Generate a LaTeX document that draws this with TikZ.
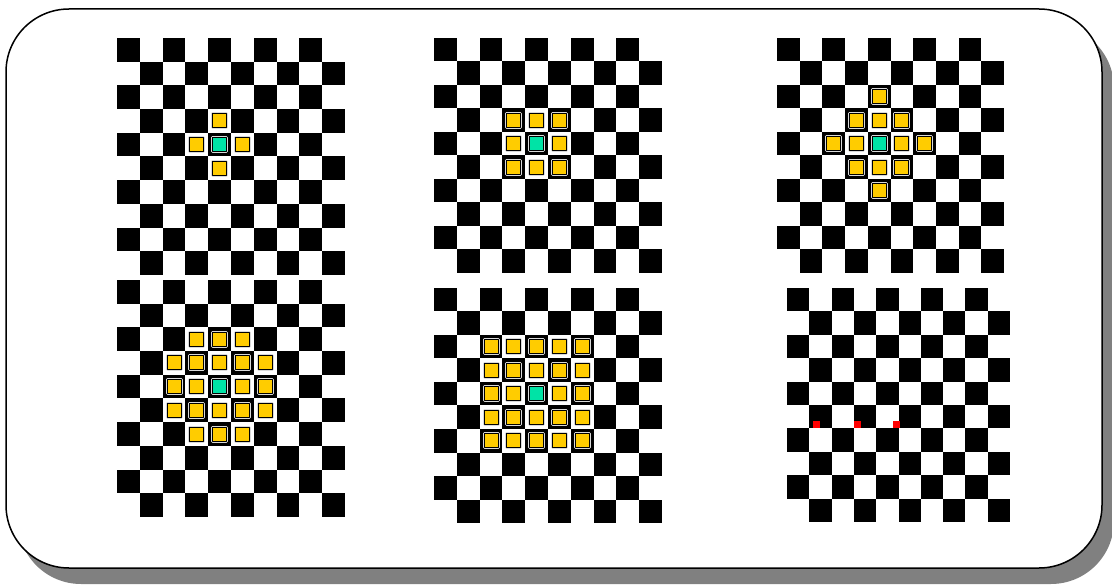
\documentclass[tikz,border=0pt]{standalone}
\usepackage{tikz}

\definecolor{markyellow}{HTML}{FFCC00}
\definecolor{markteal}{HTML}{00E3A6}
\definecolor{shadowgray}{HTML}{808080}

\tikzset{
  nbr/.style={draw=black, line width=1pt, fill=markyellow, minimum size=14pt,
    inner sep=0pt, preaction={draw=white!85!black, line width=3pt}},
  ctr/.style={nbr, fill=markteal},
  reddot/.style={fill=red, minimum size=7pt, inner sep=0pt},
}

%% 10x10 棋盘，格子坐标 = 单位长度（由 scope 的 x/y 决定）
\newcommand{\chessboard}{%
  \foreach \r in {0,...,9}
    \foreach \c in {0,2,...,8}{
      \pgfmathtruncatemacro\cc{\c+mod(\r,2)}
      \fill (\cc,\r) rectangle ++(1,1);
    }}

\begin{document}
\begin{tikzpicture}[x=1pt, y=-1pt, line join=round]

  %% ════ 外框 + 阴影 ════
  \fill[shadowgray, rounded corners=63pt] (18,25) rectangle (1114,584);
  \draw[line width=1.5pt, fill=white, rounded corners=63pt] (6,9) rectangle (1102,568);

  %% ════ 上排 ════
  % 4 邻域
  \begin{scope}[shift={(117pt,-38pt)}, x=22.8pt, y=-23.7pt]
    \chessboard
    \foreach \dx/\dy in {0/-1,-1/0,1/0,0/1}
      \node[nbr] (a\dx\dy) at (4.5+\dx,4.5+\dy) {};
    \node[ctr] (a0) at (4.5,4.5) {};
  \end{scope}

  % 8 邻域
  \begin{scope}[shift={(434pt,-38pt)}, x=22.8pt, y=-23.5pt]
    \chessboard
    \foreach \dx in {-1,0,1}
      \foreach \dy in {-1,0,1}{
        \pgfmathtruncatemacro\dd{abs(\dx)+abs(\dy)}
        \ifnum\dd>0 \node[nbr] (b\dx\dy) at (4.5+\dx,4.5+\dy) {}; \fi
      }
    \node[ctr] (b0) at (4.5,4.5) {};
  \end{scope}

  % 菱形 r=2
  \begin{scope}[shift={(777pt,-38pt)}, x=22.7pt, y=-23.5pt]
    \chessboard
    \foreach \dx in {-2,...,2}
      \foreach \dy in {-2,...,2}{
        \pgfmathtruncatemacro\dd{abs(\dx)+abs(\dy)}
        \ifnum\dd>0 \ifnum\dd<3 \node[nbr] (c\dx\dy) at (4.5+\dx,4.5+\dy) {}; \fi\fi
      }
    \node[ctr] (c0) at (4.5,4.5) {};
  \end{scope}

  %% ════ 下排 ════
  % 圆盘（5x5 去四角）
  \begin{scope}[shift={(117pt,-280pt)}, x=22.8pt, y=-23.7pt]
    \chessboard
    \foreach \dx in {-2,...,2}
      \foreach \dy in {-2,...,2}{
        \pgfmathtruncatemacro\dd{abs(\dx)+abs(\dy)}
        \pgfmathtruncatemacro\kk{abs(\dx*\dy)}
        \ifnum\dd>0 \ifnum\kk<4 \node[nbr] (d\dx\dy) at (4.5+\dx,4.5+\dy) {}; \fi\fi
      }
    \node[ctr] (d0) at (4.5,4.5) {};
  \end{scope}

  % 5x5 方块
  \begin{scope}[shift={(434pt,-288pt)}, x=22.8pt, y=-23.5pt]
    \chessboard
    \foreach \dx in {-2,...,2}
      \foreach \dy in {-2,...,2}{
        \pgfmathtruncatemacro\dd{abs(\dx)+abs(\dy)}
        \ifnum\dd>0 \node[nbr] (e\dx\dy) at (4.5+\dx,4.5+\dy) {}; \fi
      }
    \node[ctr] (e0) at (4.5,4.5) {};
  \end{scope}

  % 只有三个红点
  \begin{scope}[shift={(787pt,-288pt)}, x=22.3pt, y=-23.4pt]
    \chessboard
  \end{scope}
  \node[reddot] (r1) at (816.5,424.5) {};
  \node[reddot] (r2) at (857.0,424.5) {};
  \node[reddot] (r3) at (896.0,424.5) {};

  % 钉死画布
  \pgfresetboundingbox
  \path[use as bounding box] (0,0) rectangle (1112,585);
\end{tikzpicture}
\end{document}
